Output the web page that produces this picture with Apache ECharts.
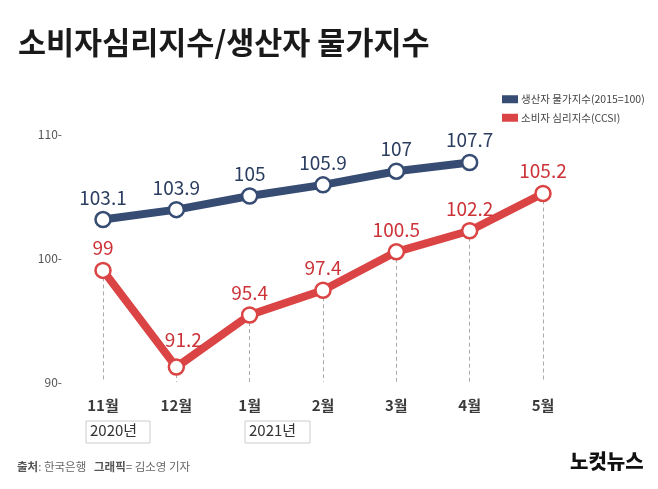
<!DOCTYPE html>
<html><head><meta charset="utf-8">
<script src="https://cdn.jsdelivr.net/npm/echarts@6/dist/echarts.min.js"></script>
<style>html,body{margin:0;padding:0;background:#fff}#c{width:658px;height:489px}</style>
</head><body><div id="c"></div>
<script>
const categories = ['11월','12월','1월','2월','3월','4월','5월'];
const producer = [103.1, 103.9, 105, 105.9, 107, 107.7, null];
const consumer = [99, 91.2, 95.4, 97.4, 100.5, 102.2, 105.2];
const yTicks = [90, 100, 110];
const seriesNames = ['생산자 물가지수(2015=100)', '소비자 심리지수(CCSI)'];

const FONT = '"Noto Sans CJK KR", "Noto Sans", sans-serif';
const BLUE = '#364c73', RED = '#db4444';
const chart = echarts.init(document.getElementById('c'));
chart.setOption({
  backgroundColor: '#fff',
  textStyle: { fontFamily: FONT },
  animation: false,
  title: {
    text: '소비자심리지수/생산자 물가지수',
    left: 13, top: 22,
    textStyle: { fontFamily: FONT, fontSize: 30.5, fontWeight: 'bold', color: '#1a1a1a' }
  },
  legend: {
    orient: 'vertical', left: 497, top: 89, itemWidth: 16, itemHeight: 8, itemGap: 8,
    textStyle: { fontFamily: FONT, fontSize: 10.5, color: '#444', padding: [0,0,0,-2] },
    data: [
      { name: seriesNames[0], icon: 'rect', itemStyle: { color: BLUE, borderWidth: 0 }, lineStyle: { width: 8, color: BLUE, cap: 'butt' } },
      { name: seriesNames[1], icon: 'rect', itemStyle: { color: RED, borderWidth: 0 }, lineStyle: { width: 8, color: RED, cap: 'butt' } }
    ]
  },
  grid: { left: 103, right: 115, top: 134, bottom: 107 },
  xAxis: {
    type: 'category', data: categories, boundaryGap: false,
    axisLine: { show: false }, axisTick: { show: false },
    axisLabel: { margin: 16, fontSize: 15, fontWeight: 'bold', color: '#3a3a3a', fontFamily: FONT }
  },
  yAxis: {
    type: 'value', min: yTicks[0], max: yTicks[yTicks.length-1], interval: 10,
    splitLine: { show: false }, axisLine: { show: false }, axisTick: { show: false },
    axisLabel: { formatter: '{value}-', margin: 41, fontSize: 12, color: '#555', fontFamily: FONT }
  },
  series: [
    {
      name: seriesNames[0], type: 'line', data: producer, color: BLUE,
      symbol: 'circle', symbolSize: 15,
      lineStyle: { width: 8, color: BLUE },
      itemStyle: { color: '#fff', borderColor: BLUE, borderWidth: 2.5 },
      label: { show: true, position: 'top', distance: 4, fontSize: 19, color: '#2b3d60', fontFamily: FONT },
      z: 3
    },
    {
      name: seriesNames[1], type: 'line', color: RED,
      data: consumer.map((v, i) => i === 1 ? { value: v, label: { offset: [7, -5] } } : v),
      symbol: 'circle', symbolSize: 15,
      lineStyle: { width: 8, color: RED },
      itemStyle: { color: '#fff', borderColor: RED, borderWidth: 2.5 },
      label: { show: true, position: 'top', distance: 4, fontSize: 19, color: '#cc3338', fontFamily: FONT },
      markLine: {
        silent: true, symbol: 'none', label: { show: false }, z: 1,
        lineStyle: { type: [4, 3], color: '#aaa', width: 1 },
        data: consumer.map((v, i) => [{ coord: [categories[i], v] }, { coord: [categories[i], yTicks[0]] }])
      },
      z: 4
    }
  ],
  graphic: [
    { type: 'rect', shape: { x: 86, y: 421, width: 64, height: 22 }, style: { fill: '#fff', stroke: '#ccc', lineWidth: 1 } },
    { type: 'text', left: 90, top: 423, style: { text: '2020년', fontSize: 15, fill: '#333', fontFamily: FONT } },
    { type: 'rect', shape: { x: 245, y: 421, width: 65, height: 22 }, style: { fill: '#fff', stroke: '#ccc', lineWidth: 1 } },
    { type: 'text', left: 249, top: 423, style: { text: '2021년', fontSize: 15, fill: '#333', fontFamily: FONT } },
    { type: 'text', left: 17, top: 461, style: {
      rich: { b: { fontWeight: 'bold', fontSize: 11.5, fill: '#555', fontFamily: FONT }, n: { fontSize: 11.5, fill: '#666', fontFamily: FONT } },
      text: '{b|출처}{n|: 한국은행   }{b|그래픽}{n|= 김소영 기자}'
    } },
    { type: 'text', left: 570, top: 451, style: { text: '노컷뉴스', fontSize: 20, fontWeight: 900, fill: '#111', fontFamily: FONT } }
  ]
});
</script></body></html>
